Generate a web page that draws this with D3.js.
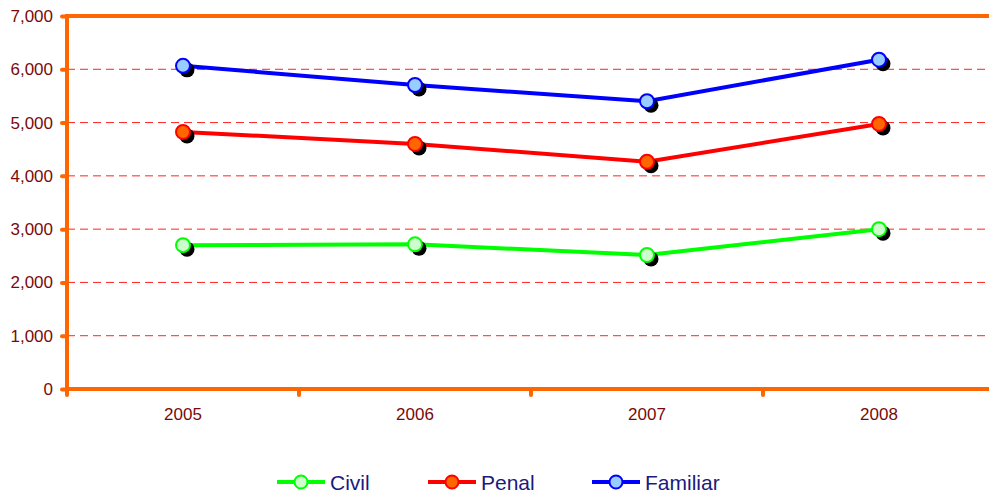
<!DOCTYPE html>
<html>
<head>
<meta charset="utf-8">
<script src="https://cdn.jsdelivr.net/npm/d3@7"></script>
<style>
  body { margin: 0; background: #fff; }
  svg { font-family: "Liberation Sans", Arial, sans-serif; }
</style>
</head>
<body>
<svg id="chart" width="989" height="496"></svg>
<script>
const years = ['2005', '2006', '2007', '2008']
const civil = [2700, 2715, 2515, 3000]
const penal = [4825, 4600, 4265, 4975]
const familiar = [6065, 5705, 5400, 6180]
const yTicks = [0, 1000, 2000, 3000, 4000, 5000, 6000, 7000]

const series = [
  {name: 'Civil', values: civil, line: '#00ff00', fill: '#ccffcc', stroke: '#00ff00'},
  {name: 'Penal', values: penal, line: '#ff0000', fill: '#ff6600', stroke: '#ff0000'},
  {name: 'Familiar', values: familiar, line: '#0000ff', fill: '#99ccff', stroke: '#0000ff'}
]

const orange = '#ff6600'
const plotLeft = 67, plotTop = 16, plotBottom = 389, plotRight = 995

const svg = d3.select('#chart')
const x = d3.scaleBand().domain(years).range([plotLeft, plotRight])
const y = d3.scaleLinear().domain([0, 7000]).range([plotBottom, plotTop])

// grid
svg.append('g').selectAll('line').data(yTicks.filter(d => d > 0 && d < 7000)).enter().append('line')
  .attr('x1', plotLeft).attr('x2', 989)
  .attr('y1', d => y(d)).attr('y2', d => y(d))
  .attr('stroke', '#ff2222').attr('stroke-width', 1).attr('stroke-dasharray', '8,5')

// top border
svg.append('line').attr('x1', plotLeft).attr('x2', 989).attr('y1', y(7000)).attr('y2', y(7000))
  .attr('stroke', orange).attr('stroke-width', 4)

// y axis
const yAxis = svg.append('g').attr('transform', `translate(${plotLeft},0)`)
  .call(d3.axisLeft(y).tickValues(yTicks).tickFormat(d3.format(',')).tickSize(5))
yAxis.select('.domain').remove()
yAxis.append('line').attr('x1', 0).attr('x2', 0).attr('y1', y(7000) - 2).attr('y2', plotBottom + 5)
  .attr('stroke', orange).attr('stroke-width', 4)
yAxis.selectAll('.tick line').attr('stroke', orange).attr('stroke-width', 4).attr('stroke-linecap', 'round')
yAxis.selectAll('.tick text').attr('fill', '#7a0a0a').attr('font-size', 17).attr('x', -14)
  .style('font-family', '"Liberation Sans", Arial, sans-serif')

// x axis
const xAxis = svg.append('g').attr('transform', `translate(0,${plotBottom})`)
  .call(d3.axisBottom(x).tickSize(0).tickPadding(19))
xAxis.select('.domain').remove()
xAxis.append('line').attr('x1', plotLeft).attr('x2', 989).attr('y1', 0).attr('y2', 0)
  .attr('stroke', orange).attr('stroke-width', 4)
xAxis.selectAll('.sep').data(years).enter().append('line')
  .attr('x1', d => x(d)).attr('x2', d => x(d)).attr('y1', 0).attr('y2', 6)
  .attr('stroke', orange).attr('stroke-width', 4).attr('stroke-linecap', 'round')
xAxis.selectAll('.tick text').attr('fill', '#7a0a0a').attr('font-size', 17)
  .style('font-family', '"Liberation Sans", Arial, sans-serif')

const cx = d => x(d) + x.bandwidth() / 2
const line = d3.line().x((d, i) => cx(years[i])).y(d => y(d))

series.forEach(s => {
  const g = svg.append('g')
  g.append('path').datum(s.values).attr('d', line)
    .attr('fill', 'none').attr('stroke', s.line).attr('stroke-width', 4)
  g.selectAll('.shadow').data(s.values).enter().append('circle')
    .attr('cx', (d, i) => cx(years[i]) + 4).attr('cy', d => y(d) + 4).attr('r', 7.5).attr('fill', '#000')
  g.selectAll('.pt').data(s.values).enter().append('circle')
    .attr('cx', (d, i) => cx(years[i])).attr('cy', d => y(d)).attr('r', 7)
    .attr('fill', s.fill).attr('stroke', s.stroke).attr('stroke-width', 2)
})

// legend
const legendX = [277, 428, 592]
series.forEach((s, i) => {
  const g = svg.append('g').attr('transform', `translate(${legendX[i]},482)`)
  g.append('line').attr('x1', 0).attr('x2', 48).attr('stroke', s.line).attr('stroke-width', 4)
  g.append('circle').attr('cx', 24).attr('r', 6.5).attr('fill', s.fill).attr('stroke', s.stroke).attr('stroke-width', 2)
  g.append('text').attr('x', 53).attr('y', 7.5).text(s.name)
    .attr('fill', '#1a1a80').attr('font-size', 21)
})
</script>
</body>
</html>
